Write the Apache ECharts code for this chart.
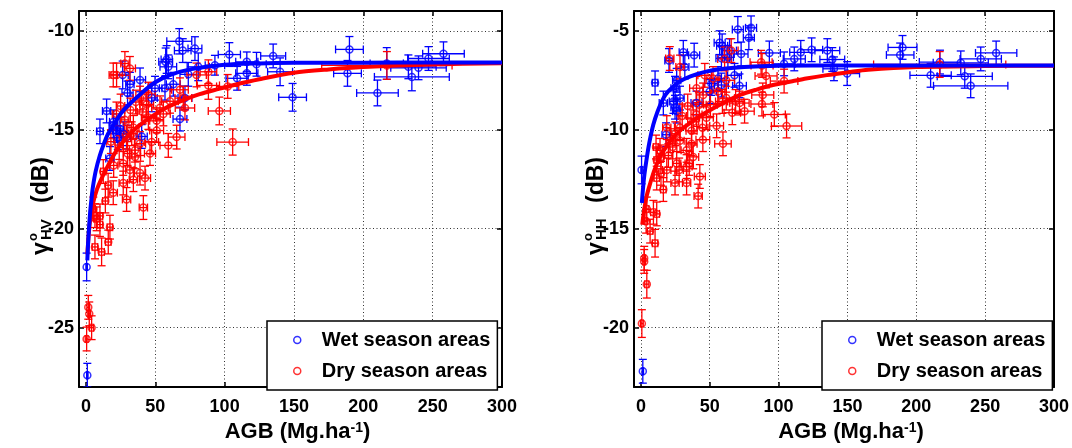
<!DOCTYPE html>
<html><head><meta charset="utf-8">
<script src="https://cdn.jsdelivr.net/npm/echarts@6/dist/echarts.min.js"></script>
<style>html,body{margin:0;padding:0;background:#fff}#c{width:1072px;height:448px}</style>
</head><body><div id="c"></div>
<script>
// ---------- tick labels ----------
const xTicks = [0, 50, 100, 150, 200, 250, 300];
const yTicksHV = [-25, -20, -15, -10];
const yTicksHH = [-20, -15, -10, -5];

// ---------- HV panel: wet season (blue) ----------
const wetHV_x  = [67.3,69.8,78.6,57.5,59.4,58.2,81,93,103.4,116,123,135,140,116,109,149,190,188.6,73.8,63,57,49.8,47.4,39,31.7,30,26.5,14.9,10.1,19.7,22.1,27,29.3,40.2,67.8,71.4,17.3,24.5,20,23,210.2,216.9,232.5,235,239.8,247,257.8,0.5,1];
const wetHV_y  = [-10.53,-11.0,-10.9,-11.57,-11.82,-11.45,-11.82,-11.74,-11.2,-11.57,-11.69,-11.27,-12.07,-12.15,-12.4,-13.36,-10.94,-12.15,-12.2,-12.7,-12.9,-12.9,-13.39,-12.48,-12.7,-13.14,-12.23,-14.05,-15.08,-14.8,-15.04,-15.2,-15.37,-15.34,-14.46,-13.39,-16.45,-14.96,-14.6,-15.4,-13.14,-11.65,-11.82,-12.33,-11.87,-11.4,-11.16,-21.93,-27.4];
const wetHV_xe = [9,6,5,5,6,4,8,7,8,8,7,9,9,8,8,10,10,10,6,5,4,5,4,4,3,4,4,3,2.4,3,3,3,3,4,5,5,3,3,3,3,15,12,20,27,20,15,15,0.5,0.5];
const wetHV_ye = [0.64,0.6,0.6,0.7,0.6,0.7,0.7,0.5,0.6,0.5,0.6,0.6,0.7,0.6,0.6,0.7,0.65,0.65,0.6,0.6,0.6,0.6,0.7,0.6,0.6,0.6,0.7,0.6,0.62,0.6,0.6,0.6,0.6,0.6,0.6,0.6,0.6,0.6,0.6,0.6,0.65,0.8,0.6,0.7,0.6,0.6,0.6,0.7,0.6];

// ---------- HV panel: dry season (red) ----------
const dryHV_x  = [22.1,31.7,28.1,19.7,39,43.8,53.4,60.6,71.4,70.2,67.8,79.8,88.3,88.3,102.2,96.2,105.8,65.4,59.4,47.4,39,34.2,29.3,35.4,26.9,31.7,39,42.6,12.5,19.7,29.3,41.4,6.5,51,45,55.8,51,46.2,35.4,34.2,26.9,10.1,17.3,16.1,6.5,11.3,5.3,1.7,2.4,4.1,0.5,7.7,10.1,22,25,28,32,36,18,24,33,41,45,30,20,16,14,217];
const dryHV_y  = [-12.23,-11.9,-11.65,-12.23,-13.4,-13.72,-13.89,-13.56,-13.9,-13.4,-12.98,-12.23,-12.07,-12.76,-12.81,-14.05,-15.62,-15.37,-15.79,-15.62,-15.7,-14.88,-15.37,-16.37,-16.7,-17.03,-17.19,-17.44,-17.11,-18.18,-18.52,-18.93,-19.34,-14.55,-14.38,-14.2,-15.04,-16.2,-16.03,-17.52,-17.69,-19.35,-19.92,-20.67,-20.92,-21.17,-19.0,-23.97,-24.3,-25.0,-25.57,-19.5,-19.79,-14.2,-13.8,-14.5,-14.0,-13.6,-15.6,-15.9,-15.2,-14.1,-13.2,-16.2,-16.8,-17.8,-18.6,-11.75];
const dryHV_xe = [4,4,3,3,5,5,6,6,7,6,6,7,6,8,8,8,11.4,6,6,5,4,4,3,4,3,3,4,4,2,3,3,3,2,5,5,5,5,4,4,3,3,2,2,2,2,2,1.5,1,1,1.5,1,2,2,3,3,3,4,4,3,3,4,4,5,3,3,2,2,47];
const dryHV_ye = [0.6,0.6,0.6,0.6,0.6,0.6,0.6,0.6,0.6,0.6,0.6,0.6,0.6,0.7,0.6,0.7,0.66,0.6,0.6,0.6,0.6,0.6,0.6,0.6,0.6,0.6,0.6,0.6,0.6,0.6,0.6,0.6,0.6,0.6,0.6,0.6,0.6,0.6,0.6,0.6,0.6,0.6,0.6,0.6,0.6,0.7,0.6,0.6,0.6,0.6,0.6,0.6,0.6,0.6,0.6,0.6,0.6,0.6,0.6,0.6,0.6,0.6,0.6,0.6,0.6,0.6,0.6,0.7];

// ---------- HV fitted curves ----------
const wetHVfit_x = [1,1.5,2,3,4,5,7,10,13,16,20,25,30,40,50,60,75,100,125,150,200,250,300];
const wetHVfit_y = [-21.6,-20.8,-20.2,-19.2,-18.5,-17.9,-17.1,-16.3,-15.7,-15.2,-14.75,-14.2,-13.8,-13.15,-12.6,-12.25,-11.95,-11.72,-11.65,-11.62,-11.61,-11.6,-11.6];
const dryHVfit_x = [1,2,3,5,8,12,16,22,28,34,40,46,55,63,72,82,95,106,125,150,175,200,250,300];
const dryHVfit_y = [-21.3,-20.3,-19.6,-18.75,-18.0,-17.35,-16.8,-16.05,-15.5,-15.05,-14.7,-14.4,-14.0,-13.72,-13.45,-13.2,-12.95,-12.75,-12.45,-12.12,-11.95,-11.83,-11.7,-11.64];

// ---------- HH panel: wet season (blue) ----------
const wetHH_x  = [70.4,80,78.4,57.2,59,64.4,58.5,63.2,72.8,93.3,104,111.4,116.1,124,135.4,139,20.4,30.8,38.7,31.9,10.3,26,24.8,28.4,16.3,23.6,24.8,26,40.4,51.2,56,58.5,50,71.6,68,18.3,0.5,1.4,140.2,149.8,190,188.3,210.4,217.2,232.3,235.2,239.5,246.8,258];
const wetHH_y  = [-4.94,-4.85,-5.35,-5.6,-5.76,-6.0,-6.39,-6.34,-6.17,-6.12,-6.67,-6.42,-6.09,-5.96,-6.0,-6.45,-6.5,-6.09,-6.23,-6.83,-7.63,-7.5,-7.9,-8.4,-8.65,-8.57,-8.86,-9.06,-8.65,-7.66,-7.41,-7.74,-8.07,-7.78,-7.25,-10.25,-12.03,-22.2,-6.92,-7.16,-5.84,-6.22,-7.25,-6.58,-6.62,-7.3,-7.78,-6.42,-6.12];
const wetHH_xe = [4,4,4,4,4,5,4,4,5,8,8,8,8,8,9,9,3,3,4,3,2,3,3,3,3,3,3,3,4,5,5,5,5,5,5,3,0.5,0.5,8,9,10.5,10,15,15,20,20,27,15,15];
const wetHH_ye = [0.66,0.6,0.6,0.6,0.6,0.6,0.6,0.6,0.6,0.6,0.6,0.6,0.6,0.6,0.6,0.6,0.6,0.6,0.6,0.6,0.6,0.6,0.6,0.6,0.6,0.6,0.6,0.6,0.6,0.6,0.6,0.6,0.6,0.6,0.6,0.6,0.7,0.6,0.6,0.6,0.6,0.6,0.6,0.6,0.6,0.6,0.6,0.6,0.6];

// ---------- HH panel: dry season (red) ----------
const dryHH_x  = [21,28.4,65.6,60.8,87.3,90.9,104,46.4,52.4,40.4,45.2,56,62,71.6,75.3,88.5,87.9,96.9,105.8,62,50.5,42.4,40.4,47.6,59.6,36.8,28.4,18.8,21.2,28.4,33.2,36.8,13.9,11.5,18.8,26,33.2,38,42.8,41.6,16.3,11.5,9.1,4.3,11.5,24.8,33.2,6.7,10.3,2.4,2.4,4.3,0.7,3.8,44.7,66.4,59.2,68.8,23.1,14.6,11,35.1,27.8,14.6,217,88,30,34,38,25,45,55,20];
const dryHH_y  = [-6.4,-6.83,-6.0,-6.42,-6.59,-7.28,-7.54,-7.25,-7.41,-7.9,-8.24,-8.07,-8.4,-8.65,-9.06,-8.24,-8.7,-9.23,-9.81,-7.5,-8.73,-8.73,-9.23,-9.39,-10.71,-10.05,-9.89,-9.89,-10.55,-10.55,-11.04,-10.71,-11.04,-11.53,-12.03,-11.7,-11.86,-11.37,-12.36,-13.35,-13.02,-12.44,-14.17,-14.0,-14.25,-12.69,-12.69,-15.12,-15.73,-16.49,-16.65,-17.8,-19.79,-14.62,-9.9,-9.14,-8.57,-8.57,-10.87,-11.37,-10.87,-11.7,-12.03,-12.2,-6.7,-6.75,-9.3,-8.8,-9.6,-10.2,-10.5,-9.8,-11.3];
const dryHH_xe = [3,3,5,5,8,8,10,5,5,5,5,5,6,7,7,8,8,8,11,6,5,5,4,5,6,4,4,3,3,3,4,4,2,2,3,3,4,4,4,3,2,2,2,1.5,2,3,3,2,2,1,1,1.5,1,1,4,6,5,6,3,2,2,3,3,2,48,8,3,4,4,3,5,5,3];
const dryHH_ye = [0.6,0.6,0.6,0.6,0.6,0.6,0.6,0.6,0.6,0.6,0.6,0.6,0.6,0.6,0.6,0.6,0.6,0.6,0.6,0.6,0.6,0.6,0.6,0.6,0.6,0.6,0.6,0.6,0.6,0.6,0.6,0.6,0.6,0.6,0.6,0.6,0.6,0.6,0.6,0.6,0.6,0.6,0.6,0.6,0.6,0.6,0.6,0.6,0.7,0.6,0.6,0.7,0.7,0.6,0.6,0.6,0.6,0.6,0.6,0.6,0.6,0.6,0.6,0.6,0.65,0.6,0.6,0.6,0.6,0.6,0.6,0.6,0.6];

// ---------- HH fitted curves ----------
const wetHHfit_x = [0.7,1.5,2.5,4,6,9,12,16,20,28,36,48,60,75,100,150,200,300];
const wetHHfit_y = [-13.7,-13.0,-12.3,-11.55,-10.7,-9.75,-9.1,-8.45,-8.05,-7.57,-7.3,-7.05,-6.92,-6.83,-6.77,-6.75,-6.75,-6.75];
const dryHHfit_x = [1,2,4,7,10,14,18,24,30,38,46,53,62,72,84,96,110,120,135,150,165,200,250,300];
const dryHHfit_y = [-14.8,-14.25,-13.4,-12.65,-12.0,-11.35,-10.9,-10.35,-9.95,-9.55,-9.18,-8.9,-8.57,-8.24,-7.97,-7.74,-7.55,-7.41,-7.24,-7.1,-6.97,-6.83,-6.78,-6.76];

const WET = 'Wet season areas', DRY = 'Dry season areas';
const BLUE = '#0000ff', RED = '#ff0000';
const FF = '"Liberation Sans", Arial, sans-serif';

function pts(xs, ys, xe, ye) { return xs.map((x, i) => xe ? [x, ys[i], xe[i], ye[i]] : [x, ys[i]]); }

function errItem(color) {
  return function (params, api) {
    const x = api.value(0), y = api.value(1), xe = api.value(2), ye = api.value(3);
    const L = api.coord([x - xe, y]), R = api.coord([x + xe, y]);
    const T = api.coord([x, y + ye]), B = api.coord([x, y - ye]);
    const cap = 4, st = { stroke: color, lineWidth: 1.3 };
    const ln = (a, b, c, d) => ({ type: 'line', shape: { x1: a, y1: b, x2: c, y2: d }, style: st });
    return { type: 'group', children: [
      ln(L[0], L[1], R[0], R[1]), ln(L[0], L[1] - cap, L[0], L[1] + cap), ln(R[0], R[1] - cap, R[0], R[1] + cap),
      ln(T[0], T[1], B[0], B[1]), ln(T[0] - cap, T[1], T[0] + cap, T[1]), ln(B[0] - cap, B[1], B[0] + cap, B[1])
    ] };
  };
}

function xAxes(g) {
  const line = { show: true, onZero: false, lineStyle: { color: '#000', width: 2 } };
  return [
    { gridIndex: g, type: 'value', min: -5, max: 300, position: 'bottom', axisLine: line,
      axisTick: { inside: true, length: 5, customValues: xTicks, lineStyle: { color: '#000', width: 1.5 } },
      axisLabel: { customValues: xTicks, color: '#000', fontSize: 18, fontWeight: 'bold', fontFamily: FF, margin: 11 },
      splitLine: { show: true, lineStyle: { type: [1, 2.5], color: '#333', width: 1 } },
      name: 'AGB (Mg.ha{sup|-1})', nameLocation: 'middle', nameGap: 32,
      nameTextStyle: { color: '#000', fontSize: 22, fontWeight: 'bold', fontFamily: FF, padding: [0, 0, 0, 14],
        rich: { sup: { fontSize: 14, fontWeight: 'bold', fontFamily: FF, color: '#000', verticalAlign: 'top', lineHeight: 13 } } } },
    { gridIndex: g, type: 'value', min: -5, max: 300, position: 'top', axisLine: line,
      axisTick: { inside: true, length: 5, customValues: xTicks, lineStyle: { color: '#000', width: 1.5 } },
      axisLabel: { show: false }, splitLine: { show: false } }
  ];
}
function yAxes(g, mn, mx, ticks) {
  const line = { show: true, onZero: false, lineStyle: { color: '#000', width: 2 } };
  return [
    { gridIndex: g, type: 'value', min: mn, max: mx, position: 'left', axisLine: line,
      axisTick: { inside: true, length: 5, customValues: ticks, lineStyle: { color: '#000', width: 1.5 } },
      axisLabel: { customValues: ticks, color: '#000', fontSize: 18, fontWeight: 'bold', fontFamily: FF, margin: 5 },
      splitLine: { show: true, lineStyle: { type: [1, 2.5], color: '#333', width: 1 } } },
    { gridIndex: g, type: 'value', min: mn, max: mx, position: 'right', axisLine: line,
      axisTick: { inside: true, length: 5, customValues: ticks, lineStyle: { color: '#000', width: 1.5 } },
      axisLabel: { show: false }, splitLine: { show: false } }
  ];
}

function panel(g, wet, dry, wetFit, dryFit) {
  const ax = { xAxisIndex: 2 * g, yAxisIndex: 2 * g };
  const sc = (name, c, d) => Object.assign({ type: 'scatter', name, data: d, symbol: 'circle', symbolSize: 7,
    itemStyle: { color: 'rgba(255,255,255,0)', borderColor: c, borderWidth: 1.5 }, emphasis: { disabled: true }, z: 3 }, ax);
  const er = (name, c, d) => Object.assign({ type: 'custom', name, data: d, renderItem: errItem(c), encode: { x: 0, y: 1 }, clip: true, z: 2, silent: true }, ax);
  const ln = (name, c, d, z) => Object.assign({ type: 'line', name, data: d, showSymbol: false, smooth: 0.3,
    lineStyle: { color: c, width: 4 }, z, silent: true }, ax);
  return [
    er('wetErr' + g, BLUE, wet), sc(WET, BLUE, wet.map(p => [p[0], p[1]])),
    er('dryErr' + g, RED, dry), sc(DRY, RED, dry.map(p => [p[0], p[1]])),
    ln('dryFit' + g, RED, dryFit, 4), ln('wetFit' + g, BLUE, wetFit, 5)
  ];
}

function legend(left) {
  return { left, top: 321, orient: 'vertical', selectedMode: false,
    backgroundColor: '#fff', borderColor: '#000', borderWidth: 1.5, padding: [9, 7, 9, 26],
    itemWidth: 7, itemHeight: 7, itemGap: 11,
    textStyle: { fontSize: 20, fontWeight: 'bold', fontFamily: FF, color: '#000', padding: [0, 0, 0, 16] },
    data: [
      { name: WET, icon: 'circle', itemStyle: { color: '#fff', borderColor: BLUE, borderWidth: 1.5 } },
      { name: DRY, icon: 'circle', itemStyle: { color: '#fff', borderColor: RED, borderWidth: 1.5 } }
    ] };
}

function yTitle(x, pol) {
  const f = s => 'bold ' + s + 'px ' + FF;
  return { type: 'group', x, y: 255, rotation: Math.PI / 2, z: 10, children: [
    { type: 'text', x: 0, y: 0, style: { text: 'γ', font: f(23), fill: '#000', verticalAlign: 'bottom' } },
    { type: 'text', x: 14, y: -13, style: { text: 'o', font: f(13), fill: '#000', verticalAlign: 'bottom' } },
    { type: 'text', x: 15, y: 1, style: { text: pol, font: f(15), fill: '#000', verticalAlign: 'bottom' } },
    { type: 'text', x: 52, y: 0, style: { text: '(dB)', font: f(23), fill: '#000', verticalAlign: 'bottom' } }
  ] };
}

const chart = echarts.init(document.getElementById('c'), null, { renderer: 'canvas' });
chart.setOption({
  animation: false,
  backgroundColor: '#fff',
  grid: [{ left: 79, top: 11, width: 423, height: 385 }, { left: 634, top: 11, width: 423, height: 385 }],
  xAxis: [...xAxes(0), ...xAxes(1)],
  yAxis: [...yAxes(0, -28, -9, yTicksHV), ...yAxes(1, -23, -4, yTicksHH)],
  legend: [legend(267), legend(822)],
  graphic: [yTitle(53, 'HV'), yTitle(608, 'HH')],
  series: [
    ...panel(0, pts(wetHV_x, wetHV_y, wetHV_xe, wetHV_ye), pts(dryHV_x, dryHV_y, dryHV_xe, dryHV_ye),
      pts(wetHVfit_x, wetHVfit_y), pts(dryHVfit_x, dryHVfit_y)),
    ...panel(1, pts(wetHH_x, wetHH_y, wetHH_xe, wetHH_ye), pts(dryHH_x, dryHH_y, dryHH_xe, dryHH_ye),
      pts(wetHHfit_x, wetHHfit_y), pts(dryHHfit_x, dryHHfit_y))
  ]
});
</script></body></html>
